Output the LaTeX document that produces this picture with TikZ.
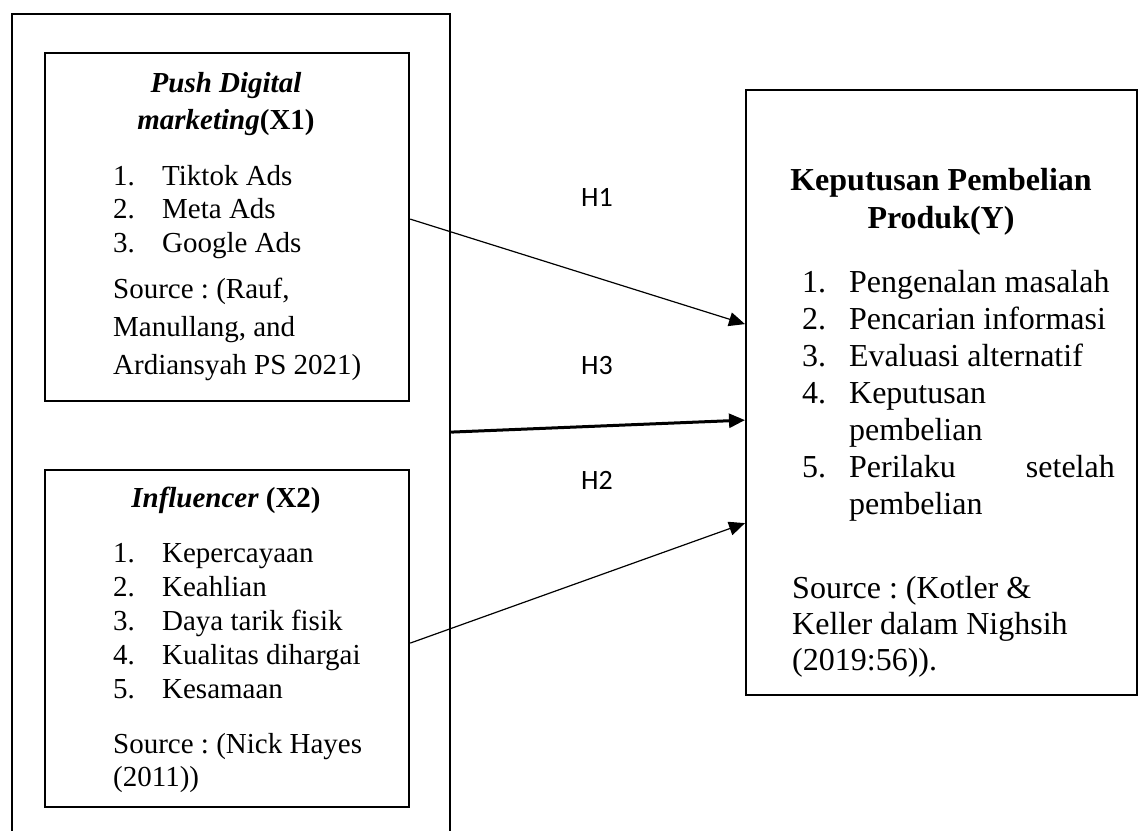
\documentclass[tikz,border=0pt]{standalone}
\usepackage{fontspec}
\setmainfont{Liberation Serif}
\newfontfamily\calib{Carlito}
\usetikzlibrary{arrows.meta}
\frenchspacing
\begin{document}
\begin{tikzpicture}[x=1pt,y=-1pt,
  frame/.style={draw, line width=2.2pt, inner sep=0pt, anchor=north west},
  lt/.style={font=\fontsize{29}{33}\selectfont, inner sep=0pt, anchor=base west},
  lh/.style={font=\fontsize{29}{33}\selectfont\bfseries, inner sep=0pt, anchor=base},
  rt/.style={font=\fontsize{32}{37}\selectfont, inner sep=0pt, anchor=base west},
  rh/.style={font=\fontsize{32}{37}\selectfont\bfseries, inner sep=0pt, anchor=base},
  hlab/.style={font=\calib\fontsize{28}{30}\selectfont, inner sep=0pt},
  thinarrow/.style={line width=1.2pt, -{Triangle[length=16pt,width=14pt]}},
  thickarrow/.style={line width=3pt, -{Triangle[length=16pt,width=14pt]}},
]
\useasboundingbox (0,0) rectangle (1143,830);
\fill[white] (0,0) rectangle (1143,830);
\clip (0,0) rectangle (1143,830);

% boxes
\node[frame, minimum width=438pt, minimum height=840pt] (outer) at (11,13) {};
\node[frame, minimum width=364pt, minimum height=348pt] (x1) at (44,52) {};
\node[frame, minimum width=364pt, minimum height=337pt] (x2) at (44,469) {};
\node[frame, minimum width=391pt, minimum height=605pt] (y) at (745,89) {};

% X1 text
\node[lh] (x1h1) at (226,92) {\itshape Push Digital};
\node[lh] (x1h2) at (226,129) {\itshape marketing\upshape(X1)};
\node[lt] (x1i1) at (113,185) {\makebox[49pt][l]{1.}Tiktok Ads};
\node[lt] (x1i2) at (113,218) {\makebox[49pt][l]{2.}Meta Ads};
\node[lt] (x1i3) at (113,252) {\makebox[49pt][l]{3.}Google Ads};
\node[lt] (x1s1) at (113,298) {Source : (Rauf,};
\node[lt] (x1s2) at (113,336) {Manullang, and};
\node[lt] (x1s3) at (113,374) {Ardiansyah PS 2021)};

% X2 text
\node[lh] (x2h1) at (226,507) {\itshape Influencer \upshape(X2)};
\node[lt] (x2i1) at (113,562) {\makebox[49pt][l]{1.}Kepercayaan};
\node[lt] (x2i2) at (113,596) {\makebox[49pt][l]{2.}Keahlian};
\node[lt] (x2i3) at (113,630) {\makebox[49pt][l]{3.}Daya tarik fisik};
\node[lt] (x2i4) at (113,664) {\makebox[49pt][l]{4.}Kualitas dihargai};
\node[lt] (x2i5) at (113,698) {\makebox[49pt][l]{5.}Kesamaan};
\node[lt] (x2s1) at (113,753) {Source : (Nick Hayes};
\node[lt] (x2s2) at (113,786) {(2011))};

% Y text
\node[rh] (yh1) at (941,190) {Keputusan Pembelian};
\node[rh] (yh2) at (941,228) {Produk(Y)};
\node[rt] (yi1) at (802,292) {\makebox[47pt][l]{1.}Pengenalan masalah};
\node[rt] (yi2) at (802,329) {\makebox[47pt][l]{2.}Pencarian informasi};
\node[rt] (yi3) at (802,366) {\makebox[47pt][l]{3.}Evaluasi alternatif};
\node[rt] (yi4) at (802,403) {\makebox[47pt][l]{4.}Keputusan};
\node[rt] (yi4b) at (849,440) {pembelian};
\node[rt] (yi5) at (802,477) {\makebox[47pt][l]{5.}Perilaku};
\node[rt, anchor=base east] (yi5r) at (1115,477) {setelah};
\node[rt] (yi5b) at (849,514) {pembelian};
\node[rt] (ys1) at (792,598) {Source : (Kotler \&};
\node[rt] (ys2) at (792,634) {Keller dalam Nighsih};
\node[rt] (ys3) at (792,670) {(2019:56)).};

% hypothesis labels
\node[hlab] (h1) at (597,197) {H1};
\node[hlab] (h3) at (597,366) {H3};
\node[hlab] (h2) at (597,480) {H2};

% connectors
\draw[thinarrow] ([yshift=8pt]x1.east) -- ([yshift=68.5pt]y.west);
\draw[thickarrow] ([yshift=2pt]outer.east) -- ([yshift=-27.5pt]y.west);
\draw[thinarrow] ([yshift=-4.5pt]x2.east) -- ([yshift=-130.5pt]y.west);
\end{tikzpicture}
\end{document}
